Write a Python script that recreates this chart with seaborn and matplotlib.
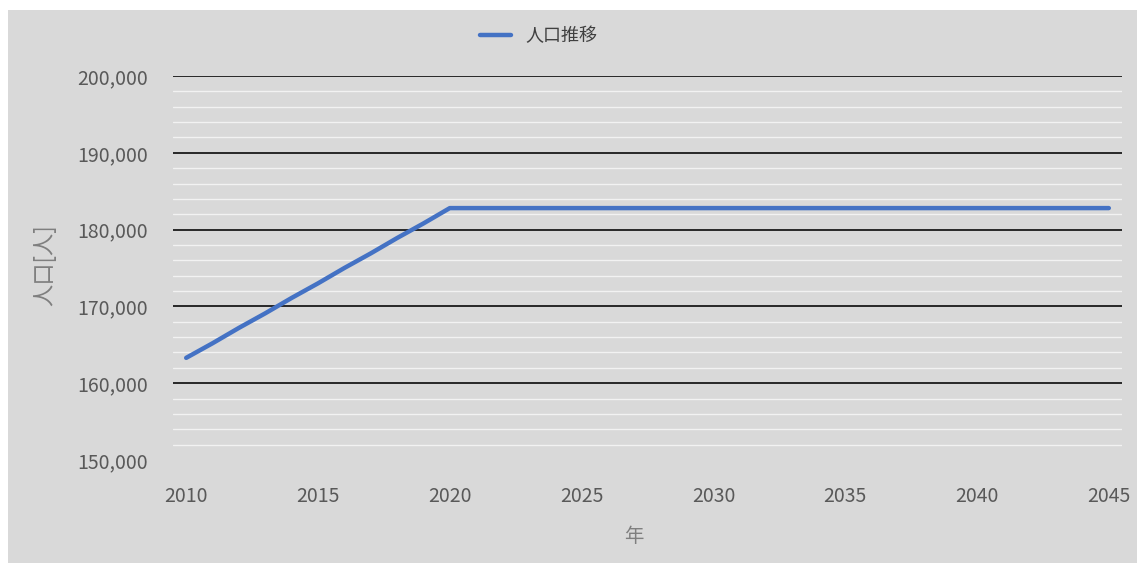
import numpy as np
import pandas as pd
import matplotlib
matplotlib.use("Agg")
import matplotlib.pyplot as plt
from matplotlib.patches import Rectangle
from matplotlib.ticker import FuncFormatter, MultipleLocator
from matplotlib.lines import Line2D
import seaborn as sns

years = list(range(2010, 2046))
population = [163300, 165200, 167200, 169100, 171100, 173000, 175000, 176900,
              178900, 180800, 182800] + [182800] * 25
series_name = "人口推移"
x_label = "年"
y_label = "人口[人]"
x_ticks = [2010, 2015, 2020, 2025, 2030, 2035, 2040, 2045]
y_ticks = [150000, 160000, 170000, 180000, 190000, 200000]

df = pd.DataFrame({"year": years, "pop": population, "series": series_name})

sns.set_style("white")
plt.rcParams['font.family'] = ['Noto Sans CJK JP', 'DejaVu Sans']

W, H = 1137, 563
fig = plt.figure(figsize=(W / 100, H / 100), dpi=100)
fig.patch.set_facecolor("white")
bg = Rectangle((8 / W, 0), 1 - 8 / W, 1 - 10 / H, transform=fig.transFigure,
               facecolor="#d9d9d9", edgecolor="none", zorder=-10)
fig.add_artist(bg)

ax = fig.add_axes([173 / W, 1 - 460 / H, (1122 - 173) / W, (460 - 76) / H])
ax.set_facecolor("none")
ax.set_zorder(1)

sns.lineplot(data=df, x="year", y="pop", hue="series", palette=["#4472C4"],
             linewidth=3.2, ax=ax, legend=False, zorder=5)

ax.set_xlim(2009.5, 2045.5)
ax.set_ylim(150000, 200000)
ax.set_xticks(x_ticks)
ax.set_yticks(y_ticks)
ax.yaxis.set_minor_locator(MultipleLocator(2000))
ax.yaxis.set_major_formatter(FuncFormatter(lambda v, p: f"{int(v):,}"))
ax.set_axisbelow(True)
ax.grid(True, which="major", axis="y", color="#1a1a1a", linewidth=1.3)
ax.grid(True, which="minor", axis="y", color="#f2f2f2", linewidth=1.0)
ax.grid(False, axis="x")
ax.yaxis.get_gridlines()[0].set_visible(False)
for s in ax.spines.values():
    s.set_visible(False)
ax.tick_params(axis="both", which="both", length=0, labelsize=14, colors="#595959")
ax.tick_params(axis="y", pad=18)
ax.tick_params(axis="x", pad=19)
ax.set_xlabel("")
ax.set_ylabel("")

fig.text(45 / W, 1 - 265 / H, y_label, rotation=90, ha="center", va="center",
         fontsize=16, color="#7f7f7f")
fig.text(634 / W, 1 - 537 / H, x_label, ha="center", va="center",
         fontsize=14, color="#7f7f7f")

handle = Line2D([], [], color="#4472C4", linewidth=3.2)
fig.legend([handle], [series_name], loc="center left",
           bbox_to_anchor=(480 / W, 1 - 36 / H), frameon=False, fontsize=13,
           handlelength=1.7, handletextpad=0.8, borderpad=0, borderaxespad=0,
           labelcolor="#404040")

fig.savefig("out.png", dpi=100, facecolor="white")
